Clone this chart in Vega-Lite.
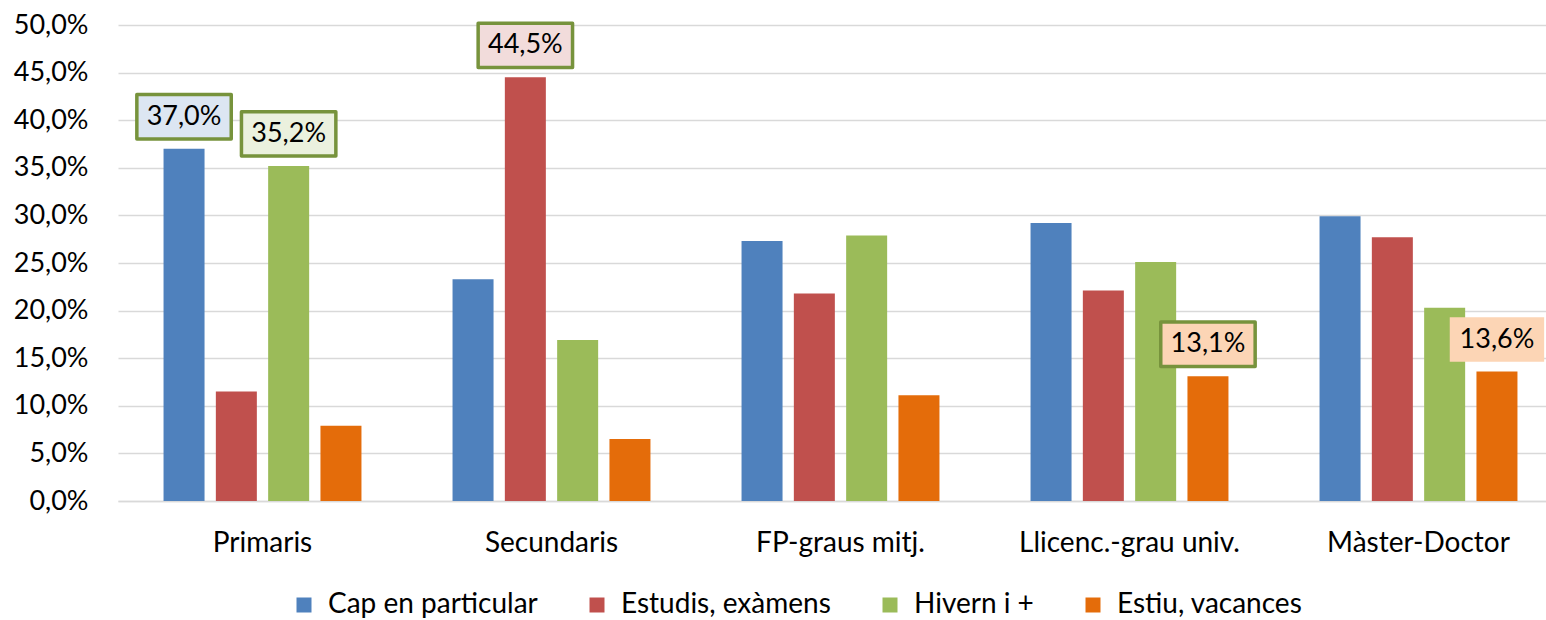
{
  "$schema": "https://vega.github.io/schema/vega-lite/v6.json",
  "width": 1428,
  "height": 476,
  "autosize": {"type": "none"},
  "padding": {"left": 118, "top": 25, "right": 0, "bottom": 119},
  "config": {
    "locale": {"number": {"decimal": ",", "thousands": ".", "grouping": [3], "currency": ["", " €"]}},
    "font": "Lato",
    "view": {"stroke": null},
    "legend": {
      "orient": "none",
      "legendX": 172,
      "legendY": 566,
      "direction": "horizontal",
      "columns": 4,
      "symbolType": "square",
      "symbolSize": 225,
      "symbolStrokeWidth": 0,
      "labelFontSize": 28,
      "labelColor": "#000000",
      "labelOffset": 10,
      "columnPadding": 45,
      "labelLimit": 400
    }
  },
  "data": {
    "values": [
      {"cat": "Primaris", "serie": "Cap en particular", "valor": 0.370, "destacat": true},
      {"cat": "Primaris", "serie": "Estudis, exàmens", "valor": 0.115, "destacat": false},
      {"cat": "Primaris", "serie": "Hivern i +", "valor": 0.352, "destacat": true},
      {"cat": "Primaris", "serie": "Estiu, vacances", "valor": 0.079, "destacat": false},
      {"cat": "Secundaris", "serie": "Cap en particular", "valor": 0.233, "destacat": false},
      {"cat": "Secundaris", "serie": "Estudis, exàmens", "valor": 0.445, "destacat": true},
      {"cat": "Secundaris", "serie": "Hivern i +", "valor": 0.169, "destacat": false},
      {"cat": "Secundaris", "serie": "Estiu, vacances", "valor": 0.065, "destacat": false},
      {"cat": "FP-graus mitj.", "serie": "Cap en particular", "valor": 0.273, "destacat": false},
      {"cat": "FP-graus mitj.", "serie": "Estudis, exàmens", "valor": 0.218, "destacat": false},
      {"cat": "FP-graus mitj.", "serie": "Hivern i +", "valor": 0.279, "destacat": false},
      {"cat": "FP-graus mitj.", "serie": "Estiu, vacances", "valor": 0.111, "destacat": false},
      {"cat": "Llicenc.-grau univ.", "serie": "Cap en particular", "valor": 0.292, "destacat": false},
      {"cat": "Llicenc.-grau univ.", "serie": "Estudis, exàmens", "valor": 0.221, "destacat": false},
      {"cat": "Llicenc.-grau univ.", "serie": "Hivern i +", "valor": 0.251, "destacat": false},
      {"cat": "Llicenc.-grau univ.", "serie": "Estiu, vacances", "valor": 0.131, "destacat": true},
      {"cat": "Màster-Doctor", "serie": "Cap en particular", "valor": 0.299, "destacat": false},
      {"cat": "Màster-Doctor", "serie": "Estudis, exàmens", "valor": 0.277, "destacat": false},
      {"cat": "Màster-Doctor", "serie": "Hivern i +", "valor": 0.203, "destacat": false},
      {"cat": "Màster-Doctor", "serie": "Estiu, vacances", "valor": 0.136, "destacat": true}
    ]
  },
  "encoding": {
    "x": {
      "field": "cat",
      "type": "nominal",
      "sort": null,
      "scale": {"range": [0, 1445], "paddingInner": 0.25, "paddingOuter": 0.125},
      "axis": {
        "title": null,
        "labelAngle": 0,
        "ticks": false,
        "domain": true,
        "domainColor": "#d9d9d9",
        "domainWidth": 1.5,
        "labelPadding": 28,
        "labelFontSize": 28,
        "labelLimit": 0,
        "labelColor": "#000000",
        "grid": false
      }
    },
    "xOffset": {
      "field": "serie",
      "type": "nominal",
      "sort": null,
      "scale": {"paddingInner": 0.216, "paddingOuter": 0.18}
    },
    "y": {
      "field": "valor",
      "type": "quantitative",
      "scale": {"domain": [0, 0.5]},
      "axis": {
        "title": null,
        "values": [0, 0.05, 0.1, 0.15, 0.2, 0.25, 0.3, 0.35, 0.4, 0.45, 0.5],
        "format": ".1%",
        "domain": false,
        "ticks": false,
        "labelPadding": 30,
        "labelFontSize": 27,
        "labelColor": "#000000",
        "gridColor": "#d9d9d9",
        "gridWidth": 1.5
      }
    }
  },
  "layer": [
    {
      "mark": {"type": "bar"},
      "encoding": {
        "color": {
          "field": "serie",
          "type": "nominal",
          "scale": {
            "domain": ["Cap en particular", "Estudis, exàmens", "Hivern i +", "Estiu, vacances"],
            "range": ["#4F81BD", "#C0504D", "#9BBB59", "#E46C0A"]
          },
          "legend": {"title": null}
        }
      }
    },
    {
      "transform": [{"filter": "datum.destacat"}],
      "mark": {
        "type": "point",
        "shape": "M-1.18,-0.555L1.18,-0.555L1.18,0.555L-1.18,0.555Z",
        "size": 6400,
        "filled": true,
        "opacity": 1,
        "yOffset": -32,
        "strokeWidth": 3.5,
        "strokeJoin": "round"
      },
      "encoding": {
        "fill": {
          "field": "serie",
          "type": "nominal",
          "scale": {
            "domain": ["Cap en particular", "Estudis, exàmens", "Hivern i +", "Estiu, vacances"],
            "range": ["#DCE6F2", "#F2DCDB", "#EBF1DE", "#FCD5B5"]
          },
          "legend": null
        },
        "stroke": {
          "condition": {"test": "datum.cat === 'Màster-Doctor'", "value": "transparent"},
          "value": "#77933C"
        }
      }
    },
    {
      "transform": [{"filter": "datum.destacat"}],
      "mark": {"type": "text", "yOffset": -32, "fontSize": 27, "baseline": "middle", "align": "center", "color": "#000000"},
      "encoding": {
        "text": {"field": "valor", "type": "quantitative", "format": ".1%"}
      }
    }
  ]
}
